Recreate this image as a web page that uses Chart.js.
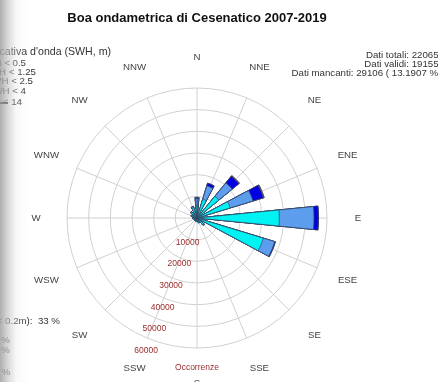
<!DOCTYPE html>
<html>
<head>
<meta charset="utf-8">
<script src="https://cdn.jsdelivr.net/npm/chart.js@4"></script>
<style>
  body { margin: 0; background: #fff; font-family: "Liberation Sans", Arial, sans-serif; }
  #wrap { position: relative; width: 438px; height: 382px; overflow: hidden; background: #fff; }
  #rose { position: absolute; left: 0; top: 0; }
  .t { position: absolute; white-space: nowrap; font-size: 9.7px; line-height: 10px; color: #333; }
  .r { text-align: right; }
  #title { left: 0; width: 394px; top: 11px; text-align: center; font-weight: bold; font-size: 13px; line-height: 14px; color: #111; }
  #shade { position: absolute; left: 0; top: 0; width: 28px; height: 382px;
    background: linear-gradient(to right, rgba(160,160,160,0.85) 0px, rgba(190,190,190,0.65) 7px, rgba(230,230,230,0.3) 16px, rgba(255,255,255,0) 28px); }
  #dash { position: absolute; left: 0; top: 102px; width: 8px; height: 1.5px; background: #111; }
</style>
</head>
<body>
<div id="wrap">
  <canvas id="rose" width="438" height="382"></canvas>
  <div class="t" id="title">Boa ondametrica di Cesenatico 2007-2019</div>

  <div class="t r" style="right:327px; top:46px; font-size:10.6px; line-height:11px;">Altezza significativa d'onda (SWH, m)</div>
  <div class="t r" style="right:412px; top:58px;">SWH &lt; 0.5</div>
  <div class="t r" style="right:402px; top:67px;">SWH &lt; 1.25</div>
  <div class="t r" style="right:405px; top:76px;">SWH &lt; 2.5</div>
  <div class="t r" style="right:412px; top:86px;">SWH &lt; 4</div>
  <div class="t r" style="right:416px; top:97px;">SWH &lt; 14</div>
  <div id="dash"></div>

  <div class="t r" style="right:-6px; top:50px;">Dati totali: 220656</div>
  <div class="t r" style="right:-6px; top:59px;">Dati validi: 191550</div>
  <div class="t r" style="right:-6px; top:68px;">Dati mancanti: 29106 ( 13.1907 % )</div>

  <div class="t r" style="right:378px; top:316px;">Calme (SWH &lt; 0.2m):&nbsp; 33 %</div>
  <div class="t r" style="right:428px; top:335px;">SWH &gt; 2.5m: 4 %</div>
  <div class="t r" style="right:428px; top:345px;">SWH &gt; 4m: 1 %</div>
  <div class="t r" style="right:428px; top:367px;">Mareggiate: 2 %</div>

  <div id="shade"></div>
</div>
<script>
// wave directions, clockwise from north
const directions = ['N', 'NNE', 'NE', 'ENE', 'E', 'ESE', 'SE', 'SSE', 'S', 'SSW', 'SW', 'WSW', 'W', 'WNW', 'NW', 'NNW'];
const swhClasses = ['SWH < 0.5', 'SWH < 1.25', 'SWH < 2.5', 'SWH < 4', 'SWH < 14'];

// occurrences per direction for each wave height class
const occ05  = [5500, 9000, 13000, 16000, 38000, 32000, 4000, 2200, 1600, 1400, 1400, 1400, 1800, 2600, 3500, 5000];
const occ125 = [3500, 6500, 8000, 11000, 16000, 5500, 400, 200, 100, 100, 100, 100, 200, 300, 400, 600];
const occ25  = [500, 1200, 4000, 5000, 2000, 300, 0, 0, 0, 0, 0, 0, 0, 0, 0, 0];
const occ4   = [0, 100, 300, 400, 100, 0, 0, 0, 0, 0, 0, 0, 0, 0, 0, 0];
const occ14  = [0, 0, 0, 0, 0, 0, 0, 0, 0, 0, 0, 0, 0, 0, 0, 0];

const ringTicks = [10000, 20000, 30000, 40000, 50000, 60000];

const classColors = ['#00f2f2', '#5c9ded', '#0000e4', '#d9861c', '#000000'];

// stack the classes: each dataset holds the running total, drawn largest first
const classes = [occ05, occ125, occ25, occ4, occ14];
const stacked = classes.map((c, k) =>
  directions.map((d, i) => classes.slice(0, k + 1).reduce((s, arr) => s + arr[i], 0)));

// wedges are half a sector wide with empty slices between them;
// N is split in two halves around the start angle
function spread(vals) {
  const out = [vals[0]];
  for (let i = 1; i < vals.length; i++) out.push(0, vals[i]);
  out.push(0, vals[0]);
  return out;
}
const sliceAngles = [5.625].concat(new Array(30).fill(11.25), [11.25, 5.625]);

const roseLabels = {
  id: 'roseLabels',
  afterDraw(chart) {
    const r = chart.scales.r;
    const ctx = chart.ctx;
    ctx.save();
    ctx.textAlign = 'center';
    ctx.textBaseline = 'middle';
    ctx.font = '9.7px "Liberation Sans", Arial, sans-serif';
    ctx.fillStyle = '#444';
    directions.forEach((d, i) => {
      // diagonal labels sit a little further out
      const extra = (i % 4 === 2) ? 5 : (i % 2 === 1 ? 2 : 0);
      const p = r.getPointPosition(i, r.drawingArea + 31 + extra);
      ctx.fillText(d, p.x, i === 8 ? p.y + 4 : p.y);
    });
    ctx.fillStyle = '#9b2b2b';
    ctx.font = '8.5px "Liberation Sans", Arial, sans-serif';
    ringTicks.forEach(v => {
      const dist = r.getDistanceFromCenterForValue(v) * 1.07 + 3;
      const p = r.getPointPosition(9, dist, -1.5 * Math.PI / 180);
      ctx.fillText(String(v), p.x, p.y);
    });
    const o = r.getPointPosition(8, r.drawingArea + 20);
    ctx.fillText('Occorrenze', o.x, o.y);
    ctx.restore();
  }
};

new Chart(document.getElementById('rose'), {
  type: 'polarArea',
  data: {
    labels: directions,
    datasets: stacked.map((vals, k) => ({
      label: swhClasses[k],
      data: spread(vals),
      backgroundColor: classColors[k],
      borderColor: '#34425e',
      borderWidth: ctx => (ctx.raw ? 0.7 : 0),
      angle: ctx => sliceAngles[ctx.dataIndex]
    }))
  },
  options: {
    responsive: false,
    animation: false,
    layout: { padding: { left: 67, right: 111, top: 88, bottom: 34 } },
    plugins: { legend: { display: false }, tooltip: { enabled: false } },
    scales: {
      r: {
        min: 0,
        max: 60000,
        startAngle: 0,
        ticks: { display: false, stepSize: 10000 },
        grid: { color: '#d0d0d0', lineWidth: 1, circular: true },
        angleLines: { display: true, color: '#d0d0d0', lineWidth: 1 },
        pointLabels: { display: false }
      }
    }
  },
  plugins: [roseLabels]
});
</script>
</body>
</html>
